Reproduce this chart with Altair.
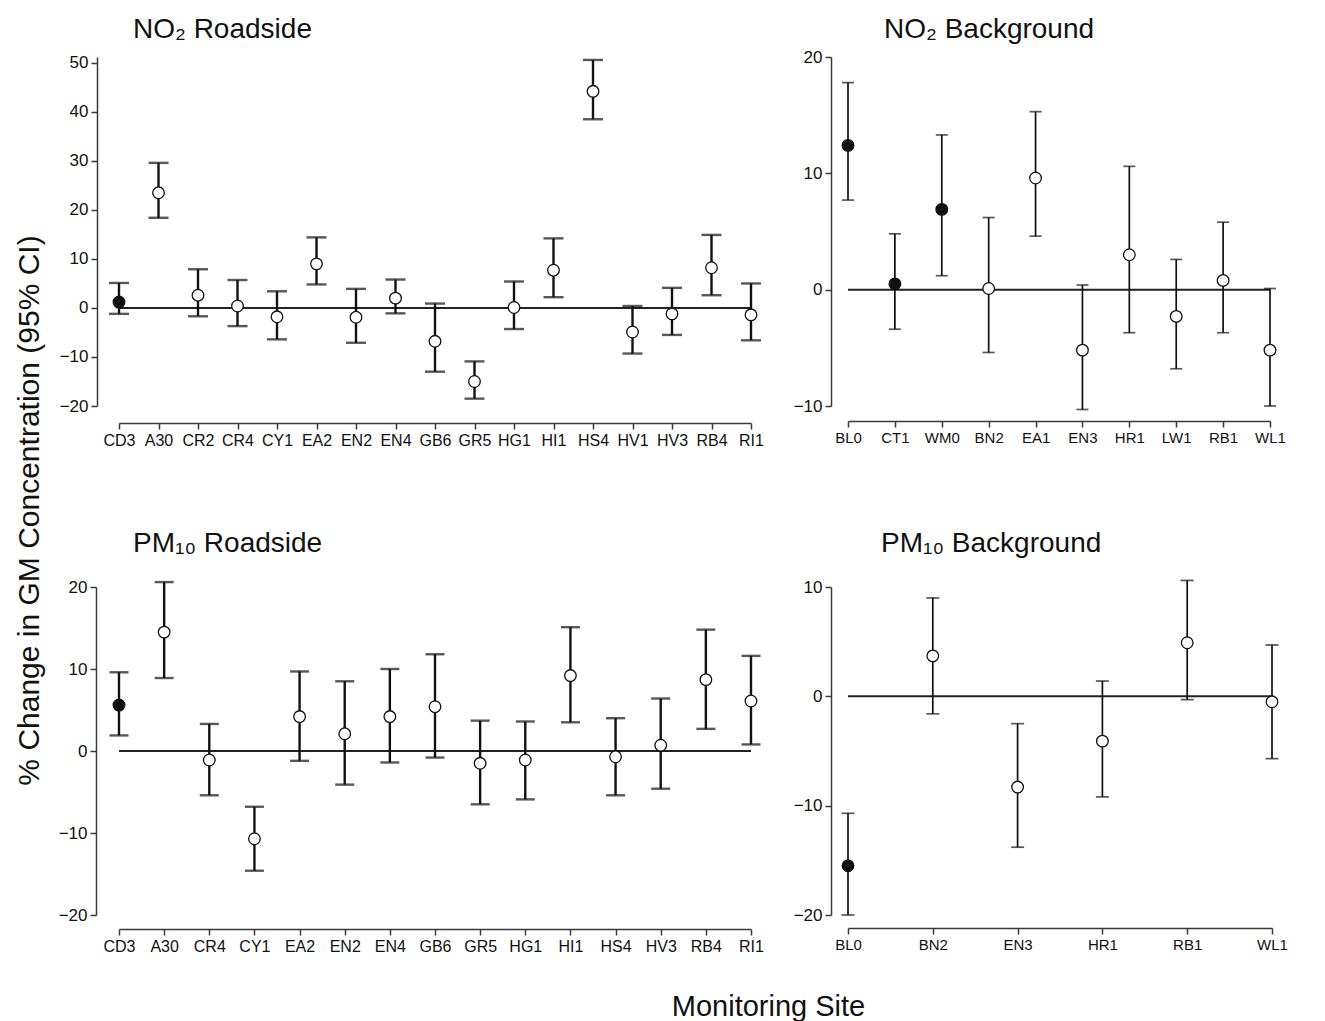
import altair as alt
import pandas as pd

# ---------------- data ----------------
no2_road_sites = ["CD3", "A30", "CR2", "CR4", "CY1", "EA2", "EN2", "EN4", "GB6",
                  "GR5", "HG1", "HI1", "HS4", "HV1", "HV3", "RB4", "RI1"]
no2_road_est = [1.2, 23.5, 2.6, 0.4, -1.8, 9.0, -1.9, 2.0, -6.8, -15.0, 0.1, 7.7, 44.2, -4.9, -1.2, 8.2, -1.4]
no2_road_lo = [-1.2, 18.4, -1.7, -3.7, -6.4, 4.8, -7.1, -1.1, -13.0, -18.5, -4.3, 2.2, 38.5, -9.3, -5.5, 2.6, -6.6]
no2_road_hi = [5.1, 29.6, 7.9, 5.7, 3.4, 14.4, 3.9, 5.8, 0.9, -10.9, 5.4, 14.2, 50.6, 0.4, 4.1, 14.9, 5.0]
no2_road_sig = [1, 0, 0, 0, 0, 0, 0, 0, 0, 0, 0, 0, 0, 0, 0, 0, 0]

no2_back_sites = ["BL0", "CT1", "WM0", "BN2", "EA1", "EN3", "HR1", "LW1", "RB1", "WL1"]
no2_back_est = [12.4, 0.5, 6.9, 0.1, 9.6, -5.2, 3.0, -2.3, 0.8, -5.2]
no2_back_lo = [7.7, -3.4, 1.2, -5.4, 4.6, -10.3, -3.7, -6.8, -3.7, -10.0]
no2_back_hi = [17.8, 4.8, 13.3, 6.2, 15.3, 0.4, 10.6, 2.6, 5.8, 0.1]
no2_back_sig = [1, 1, 1, 0, 0, 0, 0, 0, 0, 0]

pm_road_sites = ["CD3", "A30", "CR4", "CY1", "EA2", "EN2", "EN4", "GB6",
                 "GR5", "HG1", "HI1", "HS4", "HV3", "RB4", "RI1"]
pm_road_est = [5.6, 14.5, -1.1, -10.7, 4.2, 2.1, 4.2, 5.4, -1.5, -1.1, 9.2, -0.7, 0.7, 8.7, 6.1]
pm_road_lo = [1.9, 8.9, -5.4, -14.6, -1.2, -4.1, -1.4, -0.8, -6.5, -5.9, 3.5, -5.4, -4.6, 2.7, 0.8]
pm_road_hi = [9.6, 20.6, 3.3, -6.8, 9.7, 8.5, 10.0, 11.8, 3.7, 3.6, 15.1, 4.0, 6.4, 14.8, 11.6]
pm_road_sig = [1, 0, 0, 0, 0, 0, 0, 0, 0, 0, 0, 0, 0, 0, 0]

pm_back_sites = ["BL0", "BN2", "EN3", "HR1", "RB1", "WL1"]
pm_back_est = [-15.5, 3.7, -8.3, -4.1, 4.9, -0.5]
pm_back_lo = [-20.0, -1.6, -13.8, -9.2, -0.3, -5.7]
pm_back_hi = [-10.7, 9.0, -2.5, 1.4, 10.6, 4.7]
pm_back_sig = [1, 0, 0, 0, 0, 0]

titles = ["NO₂ Roadside", "NO₂ Background", "PM₁₀ Roadside", "PM₁₀ Background"]
y_title = "% Change in GM Concentration (95% CI)"
x_title = "Monitoring Site"

FONT = "Liberation Sans"
AXC = "#3a3a3a"


def frame(sites, est, lo, hi, sig):
    return pd.DataFrame({
        "site": sites, "est": est, "lo": lo, "hi": hi,
        "kind": ["filled" if s else "open" for s in sig],
    })


def panel(df, title, dx, toff, yvals, ydom, width, height, yoff, xoff, xfont,
          capw, ew, ytitle=None, xtitle=None):
    sites = list(df["site"])
    xaxis_kw = dict(labelAngle=0, labelFontSize=xfont,
                    labelFont=FONT, labelColor="#111", offset=xoff,
                    labelOverlap=False, domainColor=AXC, domainWidth=1.5,
                    tickColor=AXC, tickWidth=1.5, tickSize=6,
                    labelPadding=3, grid=False)
    if xtitle:
        xaxis_kw.update(title=xtitle, titleFontSize=29, titleFont=FONT,
                        titleFontWeight="normal", titleColor="#111",
                        titleX=649, titleY=63, titleAlign="center",
                        titleBaseline="top")
    else:
        xaxis_kw.update(title=None)
    x = alt.X("site:N", sort=sites,
              scale=alt.Scale(type="point", padding=0),
              axis=alt.Axis(**xaxis_kw))
    yaxis_kw = dict(values=yvals, offset=yoff, grid=False,
                    labelFontSize=17, labelFont=FONT, labelColor="#111",
                    domainColor=AXC, domainWidth=1.5, tickColor=AXC,
                    tickWidth=1.5, tickSize=6, labelPadding=3)
    if ytitle:
        yaxis_kw.update(title=ytitle, titleFontSize=30, titleFont=FONT,
                        titleFontWeight="normal", titleColor="#111",
                        titleX=-53, titleY=453, titleAlign="center",
                        titleBaseline="bottom", titleAngle=270)
    else:
        yaxis_kw.update(title=None)
    yaxis = alt.Axis(**yaxis_kw)
    yscale = alt.Scale(domain=ydom, nice=False, zero=False)
    base = alt.Chart(df)
    zero = alt.Chart(pd.DataFrame({"z": [0]})).mark_rule(
        color="#222", strokeWidth=2).encode(
        y=alt.Y("z:Q", scale=yscale, axis=yaxis))
    bars = base.mark_rule(color="#111", strokeWidth=ew).encode(
        x=x, y=alt.Y("lo:Q", scale=yscale, axis=yaxis), y2="hi:Q")
    cap_lo = base.mark_tick(color="#111", thickness=ew, size=capw).encode(
        x=x, y=alt.Y("lo:Q", scale=yscale, axis=yaxis))
    cap_hi = base.mark_tick(color="#111", thickness=ew, size=capw).encode(
        x=x, y=alt.Y("hi:Q", scale=yscale, axis=yaxis))
    pts = base.mark_point(filled=True, size=135, stroke="#111",
                          strokeWidth=1.3, opacity=1).encode(
        x=x, y=alt.Y("est:Q", scale=yscale, axis=yaxis),
        fill=alt.Fill("kind:N", scale=alt.Scale(domain=["filled", "open"],
                                                range=["#111", "white"]),
                      legend=None))
    return alt.layer(zero, bars, cap_lo, cap_hi, pts).properties(
        width=width, height=height,
        title=alt.TitleParams(title, anchor="start", dx=dx, offset=toff,
                              fontSize=28, font=FONT, fontWeight="normal",
                              color="#111", frame="group"))


p1 = panel(frame(no2_road_sites, no2_road_est, no2_road_lo, no2_road_hi, no2_road_sig),
           titles[0], 14, 10, list(range(-20, 51, 10)), [-20, 51.2],
           632, 349, 22, 17, 16, 20, 2.4, ytitle=y_title)
p2 = panel(frame(no2_back_sites, no2_back_est, no2_back_lo, no2_back_hi, no2_back_sig),
           titles[1], 36, 4, [-10, 0, 10, 20], [-10, 20],
           422, 349, 17, 15, 15, 12, 1.7)
p3 = panel(frame(pm_road_sites, pm_road_est, pm_road_lo, pm_road_hi, pm_road_sig),
           titles[2], 14, 20, [-20, -10, 0, 10, 20], [-20, 20],
           632, 328, 23, 14, 16, 19, 2.4, xtitle=x_title)
p4 = panel(frame(pm_back_sites, pm_back_est, pm_back_lo, pm_back_hi, pm_back_sig),
           titles[3], 33, 20, [-20, -10, 0, 10], [-20, 10],
           424, 328, 17, 13, 15, 13, 1.7)

chart = alt.concat(p1, p2, p3, p4, columns=2, bounds="flush",
                   spacing=alt.RowColnumber(column=97, row=181)).properties(
    padding={"left": 13, "top": 15, "right": 5, "bottom": 2},
).configure(font=FONT, view=alt.ViewConfig(stroke=None))

chart.save("out.html", embed_options={"renderer": "svg", "actions": False})
